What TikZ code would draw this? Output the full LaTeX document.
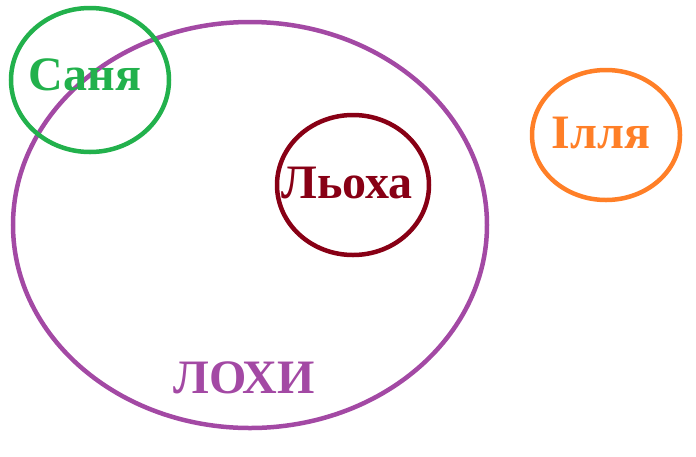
\documentclass[tikz,border=0pt]{standalone}
\usepackage{fontspec}
\setmainfont{Liberation Serif}
\usetikzlibrary{shapes.geometric}

\definecolor{sanya}{RGB}{34,177,76}
\definecolor{lokhy}{RGB}{163,73,164}
\definecolor{lyokha}{RGB}{136,0,21}
\definecolor{illya}{RGB}{255,127,39}

\tikzset{
	setring/.style={draw, line width=4.5pt, ellipse, inner sep=0pt},
	setlabel/.style={anchor=base, inner sep=0pt, font=\bfseries\fontsize{48}{48}\selectfont}
}

\begin{document}
\begin{tikzpicture}[x=1pt, y=-1pt]
	\useasboundingbox (0,0) rectangle (696,456);

	\node[setring, lokhy, minimum width=474pt, minimum height=406pt] (lokhyset) at (250,225) {};
	\node[setring, sanya, minimum width=158pt, minimum height=144pt] (sanyaset) at (90,80) {};
	\node[setring, lyokha, minimum width=152pt, minimum height=140pt] (lyokhaset) at (353,185) {};
	\node[setring, illya, minimum width=148pt, minimum height=130pt] (illyaset) at (606,135) {};

	\node[setlabel, text=sanya] (sanyalabel) at (85,90) {Саня};
	\node[setlabel, text=lyokha] (lyokhalabel) at (347,198) {Льоха};
	\node[setlabel, text=lokhy] (lokhylabel) at (244,393) {ЛОХИ};
	\node[setlabel, text=illya] (illyalabel) at (601,148) {Ілля};

\end{tikzpicture}
\end{document}
